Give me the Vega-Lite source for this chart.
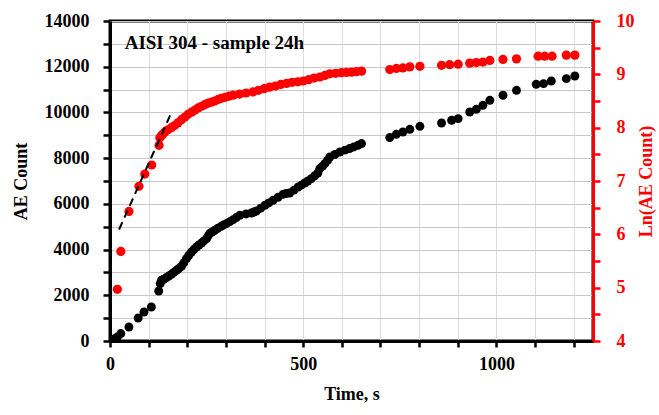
{
  "$schema": "https://vega.github.io/schema/vega-lite/v6.json",
  "width": 483,
  "height": 320,
  "autosize": {"type": "none"},
  "padding": {"left": 110, "top": 21, "right": 66, "bottom": 74},
  "background": "white",
  "config": {
    "font": "Liberation Serif",
    "view": {"stroke": "black", "strokeWidth": 3}
  },
  "datasets": {
    "black": [
      {"t": 12, "count": 105}, {"t": 19, "count": 175}, {"t": 28, "count": 324}, {"t": 49, "count": 612},
      {"t": 73, "count": 1006}, {"t": 88, "count": 1269}, {"t": 107, "count": 1487}, {"t": 126, "count": 2188},
      {"t": 130, "count": 2511}, {"t": 133, "count": 2656}, {"t": 139, "count": 2700}, {"t": 146, "count": 2774},
      {"t": 152, "count": 2840}, {"t": 159, "count": 2918}, {"t": 165, "count": 3000}, {"t": 172, "count": 3093},
      {"t": 178, "count": 3170}, {"t": 185, "count": 3268}, {"t": 191, "count": 3420}, {"t": 198, "count": 3605},
      {"t": 204, "count": 3750}, {"t": 211, "count": 3894}, {"t": 217, "count": 4000}, {"t": 224, "count": 4112},
      {"t": 230, "count": 4200}, {"t": 237, "count": 4288}, {"t": 243, "count": 4380}, {"t": 250, "count": 4480},
      {"t": 254, "count": 4600}, {"t": 258, "count": 4699}, {"t": 264, "count": 4770}, {"t": 271, "count": 4843},
      {"t": 279, "count": 4930}, {"t": 288, "count": 5018}, {"t": 294, "count": 5080}, {"t": 301, "count": 5136},
      {"t": 310, "count": 5220}, {"t": 319, "count": 5311}, {"t": 327, "count": 5400}, {"t": 336, "count": 5499},
      {"t": 352, "count": 5560}, {"t": 366, "count": 5600}, {"t": 372, "count": 5640}, {"t": 379, "count": 5687},
      {"t": 390, "count": 5810}, {"t": 401, "count": 5937}, {"t": 411, "count": 6040}, {"t": 422, "count": 6156},
      {"t": 435, "count": 6290}, {"t": 448, "count": 6418}, {"t": 456, "count": 6450}, {"t": 465, "count": 6475},
      {"t": 476, "count": 6600}, {"t": 487, "count": 6738}, {"t": 495, "count": 6820}, {"t": 504, "count": 6913},
      {"t": 512, "count": 7000}, {"t": 521, "count": 7105}, {"t": 530, "count": 7230}, {"t": 538, "count": 7350},
      {"t": 543, "count": 7543}, {"t": 550, "count": 7650}, {"t": 556, "count": 7761}, {"t": 563, "count": 7900},
      {"t": 569, "count": 8050}, {"t": 582, "count": 8160}, {"t": 595, "count": 8269}, {"t": 608, "count": 8350},
      {"t": 620, "count": 8418}, {"t": 631, "count": 8490}, {"t": 642, "count": 8562}, {"t": 651, "count": 8637},
      {"t": 724, "count": 8899}, {"t": 741, "count": 9043}, {"t": 758, "count": 9144}, {"t": 776, "count": 9262},
      {"t": 802, "count": 9393}, {"t": 858, "count": 9538}, {"t": 884, "count": 9656}, {"t": 901, "count": 9730},
      {"t": 931, "count": 10019}, {"t": 948, "count": 10137}, {"t": 965, "count": 10312}, {"t": 983, "count": 10531},
      {"t": 1017, "count": 10750}, {"t": 1052, "count": 10968}, {"t": 1103, "count": 11231}, {"t": 1122, "count": 11261},
      {"t": 1142, "count": 11375}, {"t": 1181, "count": 11480}, {"t": 1203, "count": 11594}
    ],
    "red": [
      {"t": 19, "ln": 4.97}, {"t": 28, "ln": 5.68}, {"t": 49, "ln": 6.43}, {"t": 75, "ln": 6.9},
      {"t": 90, "ln": 7.13}, {"t": 108, "ln": 7.3}, {"t": 127, "ln": 7.67}, {"t": 129, "ln": 7.81},
      {"t": 133, "ln": 7.85}, {"t": 137, "ln": 7.88}, {"t": 142, "ln": 7.92}, {"t": 150, "ln": 7.96},
      {"t": 159, "ln": 8.0}, {"t": 167, "ln": 8.04}, {"t": 176, "ln": 8.09}, {"t": 185, "ln": 8.15},
      {"t": 194, "ln": 8.2}, {"t": 202, "ln": 8.25}, {"t": 211, "ln": 8.29}, {"t": 220, "ln": 8.33},
      {"t": 228, "ln": 8.37}, {"t": 237, "ln": 8.4}, {"t": 245, "ln": 8.43}, {"t": 254, "ln": 8.46},
      {"t": 263, "ln": 8.48}, {"t": 271, "ln": 8.5}, {"t": 280, "ln": 8.53}, {"t": 288, "ln": 8.55},
      {"t": 298, "ln": 8.57}, {"t": 308, "ln": 8.59}, {"t": 319, "ln": 8.61}, {"t": 335, "ln": 8.63},
      {"t": 352, "ln": 8.65}, {"t": 370, "ln": 8.67}, {"t": 384, "ln": 8.7}, {"t": 399, "ln": 8.73},
      {"t": 413, "ln": 8.76}, {"t": 428, "ln": 8.78}, {"t": 442, "ln": 8.81}, {"t": 457, "ln": 8.83},
      {"t": 471, "ln": 8.85}, {"t": 486, "ln": 8.86}, {"t": 500, "ln": 8.875}, {"t": 514, "ln": 8.9},
      {"t": 528, "ln": 8.93}, {"t": 543, "ln": 8.95}, {"t": 556, "ln": 8.98}, {"t": 569, "ln": 9.01},
      {"t": 584, "ln": 9.02}, {"t": 599, "ln": 9.03}, {"t": 612, "ln": 9.035}, {"t": 625, "ln": 9.04},
      {"t": 638, "ln": 9.05}, {"t": 651, "ln": 9.06}, {"t": 724, "ln": 9.09}, {"t": 741, "ln": 9.11},
      {"t": 758, "ln": 9.12}, {"t": 776, "ln": 9.14}, {"t": 802, "ln": 9.15}, {"t": 858, "ln": 9.17},
      {"t": 879, "ln": 9.18}, {"t": 901, "ln": 9.19}, {"t": 931, "ln": 9.21}, {"t": 948, "ln": 9.22},
      {"t": 965, "ln": 9.23}, {"t": 983, "ln": 9.26}, {"t": 1017, "ln": 9.28}, {"t": 1052, "ln": 9.29},
      {"t": 1108, "ln": 9.34}, {"t": 1125, "ln": 9.34}, {"t": 1144, "ln": 9.34}, {"t": 1181, "ln": 9.36},
      {"t": 1203, "ln": 9.36}
    ],
    "fit": [{"t": 23.5, "ln": 6.09}, {"t": 156.5, "ln": 8.245}],
    "label": [{"t": 38, "count": 13050, "text": "AISI 304 - sample 24h"}]
  },
  "layer": [
    {
      "encoding": {
        "x": {
          "field": "t", "type": "quantitative",
          "scale": {"domain": [0, 1250], "nice": false, "zero": false},
          "axis": {
            "title": "Time, s",
            "values": [0, 100, 200, 300, 400, 500, 600, 700, 800, 900, 1000, 1100, 1200],
            "labelExpr": "datum.value % 500 === 0 ? format(datum.value, 'd') : ''",
            "grid": true, "gridColor": "#dddddd", "gridWidth": 1,
            "domainColor": "black", "domainWidth": 3,
            "tickColor": "black", "tickWidth": 2.5, "tickSize": 6,
            "labelFontSize": 18, "labelFontWeight": "bold", "labelColor": "black", "labelPadding": 8,
            "labelFlush": false,
            "titleFontSize": 18, "titleFontWeight": "bold", "titleColor": "black", "titlePadding": 12
          }
        },
        "y": {
          "field": "count", "type": "quantitative",
          "scale": {"domain": [0, 14000], "nice": false, "zero": true},
          "axis": {
            "orient": "left",
            "title": "AE Count",
            "values": [0, 1000, 2000, 3000, 4000, 5000, 6000, 7000, 8000, 9000, 10000, 11000, 12000, 13000, 14000],
            "labelExpr": "datum.value % 2000 === 0 ? format(datum.value, 'd') : ''",
            "grid": true, "gridColor": "#c8c8c8", "gridWidth": 1,
            "domainColor": "black", "domainWidth": 3,
            "tickColor": "black", "tickWidth": 2.5, "tickSize": 7,
            "labelFontSize": 18, "labelFontWeight": "bold", "labelColor": "black", "labelPadding": 14,
            "labelFlush": false,
            "titleFontSize": 18, "titleFontWeight": "bold", "titleColor": "black", "titlePadding": 14
          }
        }
      },
      "layer": [
        {
          "data": {"name": "black"},
          "mark": {"type": "point", "filled": true, "size": 80, "color": "black", "opacity": 1}
        },
        {
          "data": {"name": "label"},
          "mark": {"type": "text", "align": "left", "baseline": "middle", "fontSize": 19, "fontWeight": "bold", "color": "black"},
          "encoding": {"text": {"field": "text", "type": "nominal"}}
        }
      ]
    },
    {
      "encoding": {
        "x": {
          "field": "t", "type": "quantitative",
          "scale": {"domain": [0, 1250], "nice": false, "zero": false}
        },
        "y": {
          "field": "ln", "type": "quantitative",
          "scale": {"domain": [4, 10], "nice": false, "zero": false},
          "axis": {
            "orient": "right",
            "title": "Ln(AE Count)",
            "values": [4, 4.5, 5, 5.5, 6, 6.5, 7, 7.5, 8, 8.5, 9, 9.5, 10],
            "labelExpr": "datum.value % 1 === 0 ? format(datum.value, 'd') : ''",
            "grid": false,
            "domainColor": "#ff0000", "domainWidth": 3,
            "tickColor": "#ff0000", "tickWidth": 2.5, "tickSize": 7,
            "labelFontSize": 18, "labelFontWeight": "bold", "labelColor": "#ff0000", "labelPadding": 16,
            "labelFlush": false,
            "titleFontSize": 18, "titleFontWeight": "bold", "titleColor": "#ff0000", "titlePadding": 21,
            "titleAngle": 270
          }
        }
      },
      "layer": [
        {
          "data": {"name": "red"},
          "mark": {"type": "point", "filled": true, "size": 85, "color": "#ff0000", "opacity": 1}
        },
        {
          "data": {"name": "fit"},
          "mark": {"type": "line", "color": "black", "strokeWidth": 2, "strokeDash": [8, 5]}
        }
      ]
    }
  ],
  "resolve": {"scale": {"y": "independent"}, "axis": {"y": "independent"}}
}
